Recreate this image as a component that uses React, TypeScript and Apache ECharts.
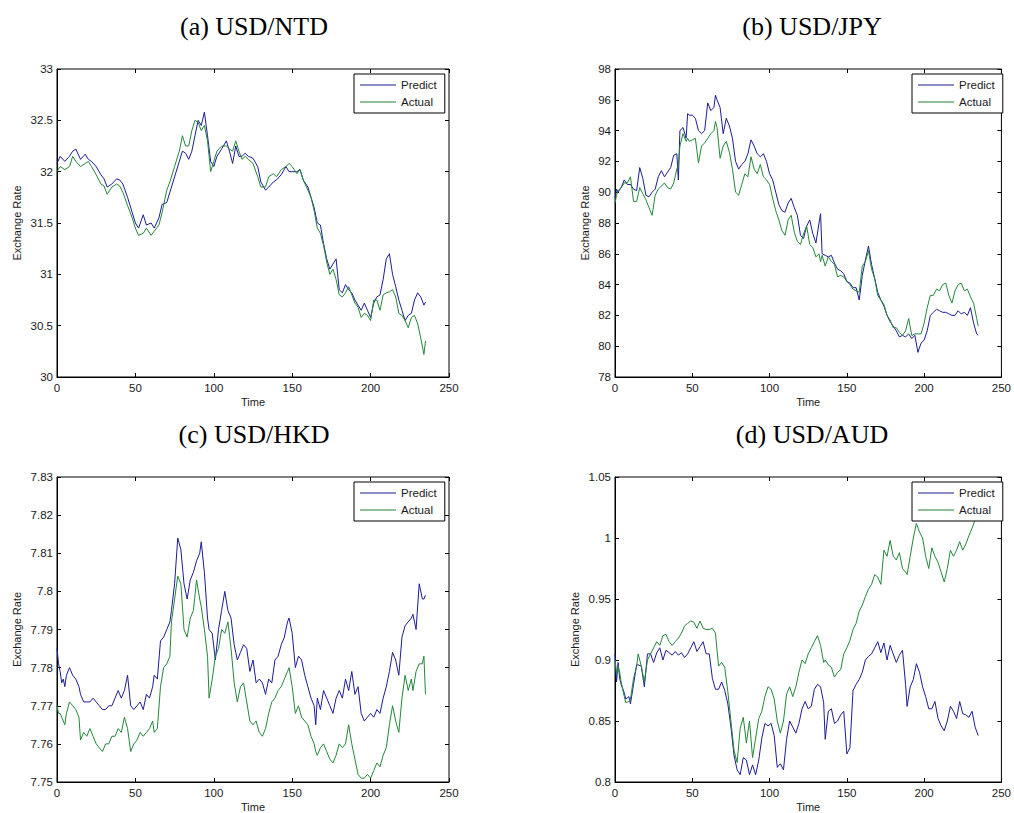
import React, { useEffect, useRef } from "react";
import * as echarts from "echarts";

// ---------- data ----------
const T_NTD = [0,2,5,8,10,12,15,18,20,22,25,28,30,32,35,38,40,42,45,48,50,52,55,57,60,62,65,67,70,72,75,78,80,82,84,86,88,90,92,94,96,98,100,102,105,108,110,112,114,116,118,120,122,125,128,130,133,135,138,140,143,146,148,150,153,155,157,160,162,164,166,168,170,172,174,176,178,180,182,184,186,188,190,192,194,196,198,200,202,204,206,208,210,212,214,216,218,220,222,224,226,228,230,232,234,235];
const PRED_NTD = [32.08,32.15,32.10,32.15,32.20,32.22,32.12,32.17,32.12,32.10,32.05,31.97,31.93,31.85,31.88,31.93,31.92,31.88,31.75,31.60,31.50,31.45,31.58,31.48,31.50,31.45,31.55,31.68,31.70,31.80,31.95,32.10,32.20,32.18,32.12,32.20,32.35,32.50,32.45,32.58,32.35,32.10,32.05,32.15,32.22,32.30,32.20,32.08,32.25,32.15,32.15,32.18,32.15,32.13,32.05,31.90,31.82,31.85,31.90,31.92,31.97,32.05,32.00,32.00,32.00,32.02,31.92,31.85,31.75,31.65,31.50,31.48,31.30,31.15,31.05,31.10,31.15,30.85,30.82,30.90,30.85,30.82,30.75,30.70,30.65,30.72,30.65,30.58,30.72,30.78,30.80,30.95,31.15,31.20,31.00,30.88,30.75,30.65,30.55,30.60,30.62,30.75,30.82,30.78,30.70,30.73];
const ACT_NTD = [32.00,32.05,32.02,32.05,32.15,32.10,32.05,32.08,32.10,32.05,31.97,31.88,31.86,31.78,31.85,31.88,31.86,31.80,31.67,31.55,31.45,31.38,31.40,31.45,31.38,31.42,31.48,31.60,31.82,31.90,32.05,32.20,32.35,32.25,32.25,32.40,32.50,32.48,32.40,32.45,32.30,32.00,32.10,32.20,32.25,32.25,32.22,32.20,32.30,32.20,32.12,32.15,32.12,32.08,31.95,31.85,31.85,31.95,31.98,31.95,32.02,32.05,32.08,32.05,31.98,32.02,31.92,31.82,31.75,31.62,31.45,31.40,31.28,31.12,31.00,31.05,30.95,30.80,30.78,30.82,30.88,30.80,30.72,30.68,30.58,30.62,30.60,30.55,30.75,30.75,30.65,30.80,30.82,30.83,30.85,30.78,30.62,30.60,30.55,30.48,30.58,30.60,30.52,30.38,30.22,30.35];

const T_JPY = [0,1,2,4,6,8,10,12,14,16,18,20,22,24,26,28,30,32,34,36,38,40,41,42,44,46,47,48,50,52,54,56,58,60,62,64,65,66,68,70,72,74,76,78,80,82,84,86,88,90,92,94,96,98,100,102,104,106,108,110,112,114,116,118,120,122,124,126,128,130,132,133,134,136,138,140,142,144,146,148,150,152,154,156,158,160,162,164,166,168,170,172,174,176,178,180,182,184,186,188,190,192,194,196,198,200,202,204,206,208,210,212,214,216,218,220,222,224,226,228,230,232,234,235];
const PRED_JPY = [89.6,90.2,90.0,90.3,90.8,90.5,90.5,90.2,90.1,91.6,90.9,89.8,89.7,90.0,90.2,91.0,91.4,91.0,91.3,91.6,92.4,92.5,90.8,94.0,94.2,93.5,95.1,95.0,95.0,94.8,94.0,93.8,94.0,95.8,95.3,95.5,96.3,96.0,95.5,93.8,94.8,94.3,93.5,92.0,91.5,91.8,92.0,92.5,93.4,93.0,92.5,92.3,92.5,92.0,91.2,90.8,90.0,89.2,88.8,88.7,89.3,89.6,89.0,88.5,87.2,87.0,87.8,88.2,87.3,86.7,88.0,88.6,86.0,85.9,85.8,85.9,85.4,85.0,84.9,84.7,84.2,84.1,83.8,83.8,83.0,84.6,85.6,86.5,85.3,84.4,83.5,83.0,82.6,82.0,81.6,81.3,81.0,80.6,80.7,80.6,80.8,80.5,80.7,79.6,80.2,80.4,81.0,82.0,82.2,82.4,82.3,82.2,82.2,82.1,82.0,82.0,82.3,82.1,82.2,82.0,82.5,81.5,80.8,80.7];
const ACT_JPY = [89.3,89.8,90.1,90.3,90.6,90.6,91.0,89.4,89.4,90.3,89.9,89.5,89.0,88.5,89.8,90.2,90.4,90.6,90.3,90.2,90.6,91.5,91.8,93.0,93.8,93.3,93.5,93.3,93.4,93.5,91.9,93.0,93.2,93.5,93.8,94.0,94.6,94.2,92.2,93.0,93.3,92.6,91.5,90.0,89.8,90.5,91.2,91.0,92.3,91.5,91.2,91.8,91.0,90.8,90.5,89.6,88.8,88.2,87.5,87.2,88.2,88.5,87.4,86.8,86.6,87.3,87.8,86.6,86.4,85.8,86.0,85.5,85.9,85.2,85.8,85.5,85.3,84.5,84.6,84.5,84.2,84.0,83.7,83.6,83.5,85.2,85.5,86.2,85.0,84.4,83.3,83.0,82.7,82.0,81.7,81.2,81.2,80.9,80.7,81.0,81.8,80.7,80.8,80.8,80.8,81.5,82.5,83.3,83.3,83.7,83.6,84.0,84.1,83.3,82.8,83.6,84.0,84.1,83.6,83.7,83.2,82.8,81.8,81.3];

const T_HKD = [0,1,2,3,4,5,6,8,10,12,14,15,17,19,21,23,25,27,29,31,33,35,37,39,41,43,45,47,49,51,53,55,57,59,61,62,64,66,68,70,72,73,75,77,79,81,83,85,87,89,91,92,94,96,97,99,101,103,105,107,109,111,113,115,117,119,121,123,125,127,129,131,133,135,137,139,141,143,145,147,148,150,152,154,156,158,160,162,164,165,166,168,170,172,174,176,178,180,182,184,186,188,190,192,194,196,198,200,202,204,206,208,210,212,214,216,218,220,222,224,226,227,229,231,233,234,235];
const PRED_HKD = [7.785,7.781,7.779,7.776,7.777,7.775,7.778,7.780,7.778,7.777,7.775,7.773,7.771,7.771,7.771,7.772,7.771,7.770,7.769,7.769,7.770,7.770,7.772,7.774,7.772,7.774,7.778,7.770,7.769,7.770,7.771,7.769,7.773,7.772,7.775,7.778,7.777,7.787,7.788,7.790,7.792,7.795,7.802,7.814,7.811,7.802,7.798,7.803,7.805,7.808,7.810,7.813,7.805,7.793,7.790,7.789,7.782,7.790,7.795,7.800,7.795,7.793,7.786,7.782,7.784,7.786,7.785,7.779,7.782,7.776,7.777,7.776,7.773,7.777,7.776,7.782,7.783,7.786,7.788,7.792,7.793,7.789,7.780,7.783,7.782,7.778,7.775,7.772,7.770,7.765,7.772,7.769,7.774,7.772,7.770,7.768,7.772,7.774,7.772,7.777,7.774,7.779,7.773,7.775,7.768,7.766,7.767,7.768,7.767,7.769,7.768,7.772,7.775,7.779,7.784,7.782,7.778,7.788,7.791,7.792,7.793,7.794,7.790,7.802,7.798,7.798,7.799];
const ACT_HKD = [7.770,7.768,7.768,7.767,7.766,7.765,7.768,7.771,7.770,7.769,7.767,7.761,7.763,7.762,7.764,7.762,7.760,7.759,7.758,7.760,7.760,7.762,7.762,7.764,7.763,7.767,7.764,7.758,7.760,7.761,7.763,7.762,7.763,7.764,7.766,7.763,7.764,7.775,7.780,7.781,7.783,7.792,7.798,7.804,7.802,7.790,7.788,7.793,7.795,7.803,7.798,7.796,7.790,7.783,7.772,7.777,7.783,7.785,7.790,7.789,7.792,7.785,7.776,7.771,7.775,7.776,7.771,7.766,7.765,7.766,7.763,7.762,7.764,7.768,7.771,7.772,7.774,7.775,7.777,7.779,7.780,7.775,7.768,7.770,7.767,7.766,7.765,7.762,7.760,7.758,7.757,7.759,7.760,7.758,7.756,7.755,7.757,7.760,7.759,7.760,7.765,7.760,7.756,7.752,7.751,7.751,7.752,7.751,7.753,7.755,7.754,7.757,7.759,7.765,7.770,7.766,7.763,7.772,7.778,7.774,7.777,7.774,7.779,7.781,7.781,7.783,7.773];

const T_AUD = [0,1,2,3,4,6,7,9,10,12,14,15,17,19,21,23,25,27,29,31,33,35,37,39,41,43,45,47,49,51,53,55,57,59,61,63,65,67,69,71,73,75,77,79,81,83,85,87,89,91,93,95,97,99,101,103,105,107,109,111,113,115,117,119,121,123,125,127,129,131,133,135,136,138,140,142,144,146,148,150,152,154,156,158,160,162,164,166,168,170,172,174,176,178,180,182,184,186,188,189,191,193,195,197,199,201,203,205,207,209,211,213,215,217,219,221,223,225,227,229,231,233,235];
const PRED_AUD = [0.905,0.882,0.898,0.885,0.880,0.873,0.868,0.870,0.864,0.880,0.896,0.896,0.895,0.878,0.905,0.905,0.898,0.906,0.910,0.900,0.908,0.906,0.904,0.907,0.904,0.906,0.902,0.905,0.910,0.915,0.907,0.911,0.915,0.905,0.905,0.885,0.876,0.876,0.882,0.875,0.864,0.845,0.822,0.810,0.806,0.820,0.818,0.806,0.814,0.806,0.818,0.836,0.848,0.846,0.848,0.838,0.812,0.815,0.810,0.835,0.850,0.845,0.840,0.848,0.860,0.866,0.860,0.862,0.876,0.880,0.878,0.865,0.835,0.858,0.860,0.848,0.850,0.855,0.858,0.823,0.828,0.875,0.880,0.884,0.890,0.900,0.903,0.905,0.910,0.915,0.906,0.914,0.900,0.912,0.905,0.898,0.904,0.908,0.880,0.862,0.878,0.884,0.897,0.890,0.878,0.870,0.860,0.860,0.866,0.852,0.846,0.842,0.850,0.862,0.858,0.852,0.866,0.856,0.855,0.853,0.858,0.845,0.838];
const ACT_AUD = [0.900,0.888,0.895,0.890,0.882,0.870,0.865,0.866,0.868,0.885,0.895,0.905,0.895,0.882,0.900,0.905,0.910,0.915,0.912,0.920,0.921,0.915,0.912,0.915,0.918,0.922,0.928,0.930,0.932,0.931,0.926,0.932,0.926,0.925,0.925,0.926,0.922,0.895,0.898,0.894,0.874,0.850,0.826,0.816,0.844,0.853,0.832,0.850,0.820,0.836,0.852,0.858,0.870,0.878,0.876,0.868,0.850,0.840,0.850,0.872,0.878,0.870,0.878,0.890,0.900,0.897,0.905,0.910,0.915,0.920,0.912,0.898,0.900,0.896,0.894,0.886,0.890,0.892,0.905,0.910,0.916,0.925,0.930,0.940,0.945,0.952,0.958,0.962,0.970,0.968,0.962,0.990,0.985,0.998,0.985,0.982,0.988,0.975,0.972,0.970,0.985,1.000,1.012,1.005,1.000,0.985,0.975,0.992,0.985,0.980,0.972,0.964,0.975,0.990,0.985,0.990,0.997,0.990,0.995,1.002,1.008,1.015,1.020];

const TITLES = ["(a) USD/NTD", "(b) USD/JPY", "(c) USD/HKD", "(d) USD/AUD"];
const SERIES_NAMES = ["Predict", "Actual"];
const X_TICKS = { min: 0, max: 250, interval: 50 };
const Y_RANGES = [
  { min: 30, max: 33, interval: 0.5 },
  { min: 78, max: 98, interval: 2 },
  { min: 7.75, max: 7.83, interval: 0.01 },
  { min: 0.8, max: 1.05, interval: 0.05 },
];
const TIMES = [T_NTD, T_JPY, T_HKD, T_AUD];
const PREDS = [PRED_NTD, PRED_JPY, PRED_HKD, PRED_AUD];
const ACTS = [ACT_NTD, ACT_JPY, ACT_HKD, ACT_AUD];

// ---------- layout / style ----------
const GRIDS = [
  { left: 57, top: 69, width: 392, height: 308 },
  { left: 615, top: 69, width: 392, height: 308 },
  { left: 57, top: 477, width: 392, height: 309 },
  { left: 615, top: 477, width: 392, height: 309 },
];
const Y_NAME_GAPS = [35, 25, 35, 35];
const BLUE = "#1c1c96";
const GREEN = "#23873a";
const SANS = '"Liberation Sans", Arial, sans-serif';
const SERIF = '"Liberation Serif", "Times New Roman", serif';
const TXT = "#1a1a1a";

function fmt(v: number) {
  return String(+v.toFixed(2));
}

function buildOption() {
  const grid: any[] = [];
  const xAxis: any[] = [];
  const yAxis: any[] = [];
  const series: any[] = [];
  const legend: any[] = [];
  const graphic: any[] = [];

  GRIDS.forEach((g, i) => {
    grid.push({ ...g, show: true, borderColor: "#000", borderWidth: 1, backgroundColor: "#fff" });
    const tick = { inside: true, length: 4, lineStyle: { color: "#000", width: 1 } };
    xAxis.push({
      gridIndex: i, type: "value", position: "bottom", ...X_TICKS,
      name: "Time", nameLocation: "middle", nameGap: 19,
      nameTextStyle: { fontFamily: SANS, fontSize: 11, color: TXT },
      axisLine: { show: true, onZero: false, lineStyle: { color: "#000", width: 1 } },
      axisTick: tick,
      axisLabel: { margin: 5, fontFamily: SANS, fontSize: 11.5, color: TXT, formatter: fmt },
      splitLine: { show: false },
    });
    xAxis.push({
      gridIndex: i, type: "value", position: "top", ...X_TICKS,
      axisLine: { show: false, onZero: false },
      axisTick: tick, axisLabel: { show: false }, splitLine: { show: false },
    });
    const yr = Y_RANGES[i];
    yAxis.push({
      gridIndex: i, type: "value", position: "left", ...yr,
      name: "Exchange Rate", nameLocation: "middle", nameGap: Y_NAME_GAPS[i],
      nameTextStyle: { fontFamily: SANS, fontSize: 11, color: TXT },
      axisLine: { show: true, onZero: false, lineStyle: { color: "#000", width: 1 } },
      axisTick: tick,
      axisLabel: { margin: 4, fontFamily: SANS, fontSize: 11.5, color: TXT, formatter: fmt },
      splitLine: { show: false },
    });
    yAxis.push({
      gridIndex: i, type: "value", position: "right", ...yr,
      axisLine: { show: false, onZero: false },
      axisTick: tick, axisLabel: { show: false }, splitLine: { show: false },
    });
    const t = TIMES[i];
    series.push({
      type: "line", name: SERIES_NAMES[0], xAxisIndex: 2 * i, yAxisIndex: 2 * i,
      data: t.map((x, j) => [x, PREDS[i][j]]),
      showSymbol: false, symbol: "none", lineStyle: { color: BLUE, width: 1 }, itemStyle: { color: BLUE },
    });
    series.push({
      type: "line", name: SERIES_NAMES[1], xAxisIndex: 2 * i, yAxisIndex: 2 * i,
      data: t.map((x, j) => [x, ACTS[i][j]]),
      showSymbol: false, symbol: "none", lineStyle: { color: GREEN, width: 1 }, itemStyle: { color: GREEN },
    });
    legend.push({
      left: g.left + g.width - 95, top: g.top + 5, orient: "vertical",
      data: SERIES_NAMES, icon: "rect", itemWidth: 36, itemHeight: 1, itemGap: 3,
      padding: [4, 8, 4, 6], borderColor: "#000", borderWidth: 1, borderRadius: 0,
      backgroundColor: "#fff", selectedMode: false,
      textStyle: { fontFamily: SANS, fontSize: 11.5, color: TXT, lineHeight: 14 },
    });
    graphic.push({
      type: "text", x: g.left + g.width / 2 + 1, y: g.top - 43,
      style: { text: TITLES[i], font: `26px ${SERIF}`, fill: "#000", align: "center", verticalAlign: "middle" },
    });
  });

  return { animation: false, backgroundColor: "#fff", grid, xAxis, yAxis, series, legend, graphic };
}

export default function App() {
  const ref = useRef<HTMLDivElement>(null);
  useEffect(() => {
    if (!ref.current) return;
    const chart = echarts.init(ref.current, undefined, { renderer: "svg" });
    chart.setOption(buildOption() as any);
    return () => chart.dispose();
  }, []);
  return (
    <div
      ref={ref}
      style={{ position: "fixed", left: 0, top: 0, width: 1014, height: 813, background: "#fff" }}
    />
  );
}
